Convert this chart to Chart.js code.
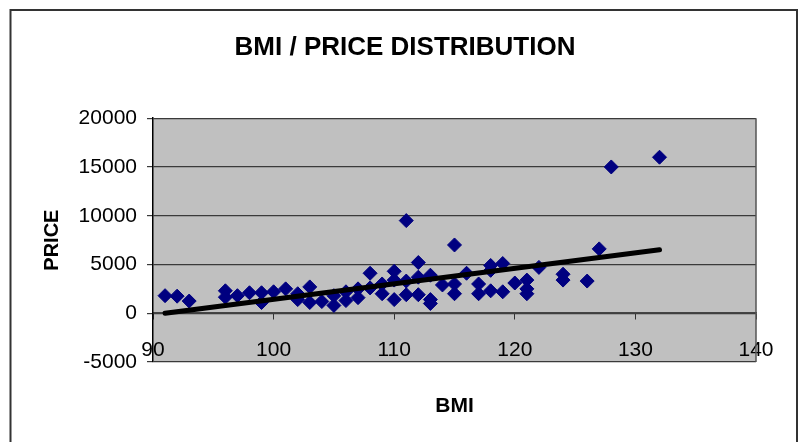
<!DOCTYPE html>
<html>
<head>
<meta charset="utf-8">
<script src="https://cdn.jsdelivr.net/npm/chart.js@4.4.1/dist/chart.umd.min.js"></script>
<style>
  html, body { margin: 0; padding: 0; background: #fff; }
  #wrap { width: 799px; height: 442px; position: relative; }
</style>
</head>
<body>
<div id="wrap"><canvas id="bmiChart" width="799" height="442"></canvas></div>
<script>
// 數據 (BMI, PRICE)
const bmiValues = [
  91, 92, 93, 96, 96, 97, 98, 99, 99, 100,
  101, 102, 102, 103, 103, 104, 105, 105, 106, 106,
  107, 107, 108, 108, 109, 109, 110, 110, 110, 111,
  111, 111, 112, 112, 112, 113, 113, 113, 114, 115,
  115, 115, 116, 117, 117, 118, 118, 118, 119, 119,
  120, 121, 121, 121, 122, 124, 124, 126, 127, 128,
  132
];
const priceValues = [
  1800, 1750, 1250, 2300, 1650, 1800, 2100, 2100, 1100, 2200,
  2500, 2000, 1400, 2700, 1100, 1200, 800, 1800, 2200, 1300,
  2500, 1600, 4100, 2600, 3000, 2000, 4300, 3400, 1400, 9500,
  3300, 1900, 5200, 3700, 1900, 3900, 1400, 1000, 2900, 7000,
  3000, 2000, 4100, 3000, 2000, 4900, 4400, 2300, 5100, 2200,
  3100, 3400, 2500, 2000, 4700, 4000, 3400, 3300, 6600, 15000,
  16000
];
// 趨勢線
const trendBmi = [91, 132];
const trendPrice = [0, 6500];

const xTicks = [90, 100, 110, 120, 130, 140];
const yTicks = [-5000, 0, 5000, 10000, 15000, 20000];

const fontFamily = "'Liberation Sans', Arial, sans-serif";

// 背景 / 外框
const framePlugin = {
  id: "frame",
  beforeDraw(chart) {
    const ctx = chart.ctx;
    const a = chart.chartArea;
    ctx.save();
    ctx.fillStyle = "#ffffff";
    ctx.fillRect(0, 0, chart.width, chart.height);
    ctx.strokeStyle = "#333333";
    ctx.lineWidth = 2;
    ctx.beginPath();
    ctx.moveTo(10.5, 442);
    ctx.lineTo(10.5, 10);
    ctx.lineTo(797, 10);
    ctx.lineTo(797, 442);
    ctx.stroke();
    ctx.fillStyle = "#c0c0c0";
    ctx.fillRect(a.left, a.top, a.right - a.left, a.bottom - a.top);
    ctx.restore();
  },
  beforeDatasetsDraw(chart) {
    const ctx = chart.ctx;
    const a = chart.chartArea;
    ctx.save();
    ctx.strokeStyle = "#555555";
    ctx.lineWidth = 1.5;
    ctx.beginPath();
    ctx.moveTo(a.right, a.top);
    ctx.lineTo(a.right, a.bottom);
    ctx.stroke();
    ctx.restore();
  }
};

const points = bmiValues.map((b, i) => ({ x: b, y: priceValues[i] }));
const trend = trendBmi.map((b, i) => ({ x: b, y: trendPrice[i] }));

const ctx = document.getElementById("bmiChart").getContext("2d");
new Chart(ctx, {
  type: "scatter",
  plugins: [framePlugin],
  data: {
    datasets: [
      {
        label: "Trend",
        data: trend,
        showLine: true,
        borderColor: "#000000",
        borderWidth: 5,
        borderCapStyle: "round",
        pointRadius: 0,
        order: 0,
      },
      {
        label: "PRICE",
        data: points,
        pointStyle: "rectRot",
        pointRadius: 7,
        pointBackgroundColor: "#000080",
        pointBorderColor: "#000080",
        pointBorderWidth: 1,
        order: 1,
      },
    ],
  },
  options: {
    responsive: false,
    animation: false,
    devicePixelRatio: 1,
    layout: { padding: { left: 54, right: 43, top: 0, bottom: 80 } },
    plugins: {
      legend: { display: false },
      tooltip: { enabled: false },
      title: {
        display: true,
        text: "BMI / PRICE DISTRIBUTION",
        color: "#000000",
        font: { family: fontFamily, size: 26, weight: "bold" },
        padding: { top: 32, bottom: 55 },
      },
    },
    scales: {
      x: {
        type: "linear",
        position: { y: 0 },
        min: 90,
        max: 140,
        afterBuildTicks: (scale) => { scale.ticks = xTicks.map((v) => ({ value: v })); },
        ticks: {
          color: "#000000",
          font: { family: fontFamily, size: 21 },
          padding: 18,
          maxRotation: 0,
          callback: (v) => String(v),
        },
        grid: { drawOnChartArea: false, drawTicks: true, tickLength: 6, color: "#333333" },
        border: { display: true, color: "#444444", width: 1.5 },
        title: {
          display: true,
          text: "BMI",
          color: "#000000",
          font: { family: fontFamily, size: 21, weight: "bold" },
          padding: { top: 13, bottom: 0 },
        },
      },
      y: {
        type: "linear",
        min: -5000,
        max: 20000,
        afterBuildTicks: (scale) => { scale.ticks = yTicks.map((v) => ({ value: v })); },
        afterFit: (scale) => { scale.width = 99; },
        ticks: {
          color: "#000000",
          font: { family: fontFamily, size: 21 },
          padding: 10,
          callback: (v) => String(v),
        },
        grid: { color: "#3a3a3a", lineWidth: 1.2, tickLength: 6 },
        border: { display: true, color: "#000000", width: 1.5 },
        title: {
          display: true,
          text: "PRICE",
          color: "#000000",
          font: { family: fontFamily, size: 20, weight: "bold" },
          padding: { top: -14, bottom: 0 },
        },
      },
    },
  },
});
</script>
</body>
</html>
